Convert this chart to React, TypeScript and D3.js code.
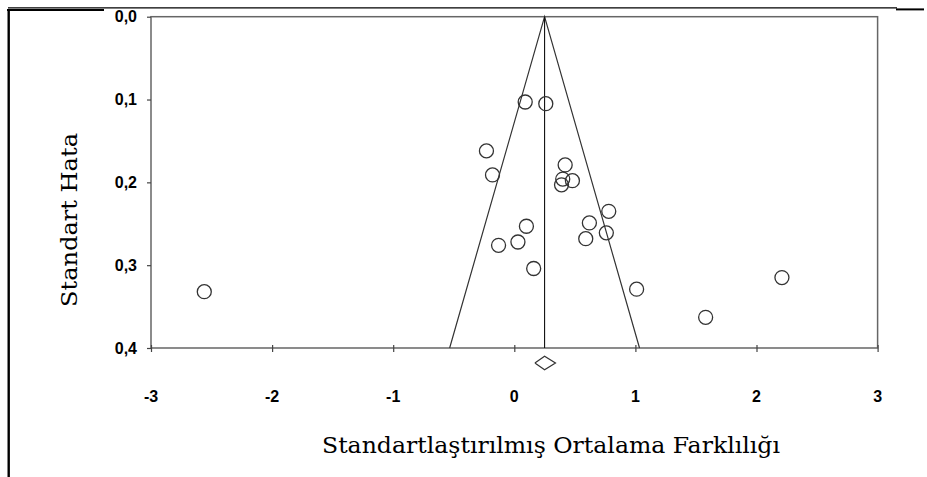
import React, { useEffect, useRef } from 'react'
import * as d3 from 'd3'

// study effect sizes (standardised mean difference) and their standard errors
const effects = [0.09, 0.26, -0.23, -0.18, 0.42, 0.40, 0.48, 0.39, 0.78, 0.62, 0.10, 0.76, 0.59, 0.03, -0.13, 0.16, -2.56, 1.01, 1.58, 2.21]
const stdErrors = [0.103, 0.105, 0.162, 0.191, 0.179, 0.196, 0.198, 0.203, 0.235, 0.249, 0.253, 0.261, 0.268, 0.272, 0.276, 0.304, 0.332, 0.329, 0.363, 0.315]
const pooledMean = 0.25
const pooledCI = [0.17, 0.34]
const xTicks = [-3, -2, -1, 0, 1, 2, 3]
const yTicks = [0, 0.1, 0.2, 0.3, 0.4]

const W = 927
const H = 477
const margin = { left: 151, top: 16.7, right: 49.4, bottom: 129 }

export default function App() {
  const ref = useRef<SVGSVGElement>(null)

  useEffect(() => {
    const svg = d3.select(ref.current)
    svg.selectAll('*').remove()

    const width = W - margin.left - margin.right
    const height = H - margin.top - margin.bottom

    const x = d3.scaleLinear().domain([-3, 3]).range([0, width])
    const y = d3.scaleLinear().domain([0, 0.4]).range([0, height])
    const fmt = d3.formatLocale({ decimal: ',', thousands: '.', grouping: [3], currency: ['', ''] }).format('.1f')

    // outer page frame
    svg.append('line').attr('x1', 8).attr('x2', 897).attr('y1', 7.8).attr('y2', 7.8).attr('stroke', '#000').attr('stroke-width', 1.2)
    svg.append('line').attr('x1', 7).attr('x2', 104).attr('y1', 10).attr('y2', 10).attr('stroke', '#000').attr('stroke-width', 2.2)
    svg.append('line').attr('x1', 896).attr('x2', 924).attr('y1', 9.4).attr('y2', 9.4).attr('stroke', '#000').attr('stroke-width', 2)
    svg.append('line').attr('x1', 8.7).attr('x2', 8.7).attr('y1', 9).attr('y2', H).attr('stroke', '#000').attr('stroke-width', 2.4)

    const g = svg.append('g').attr('transform', `translate(${margin.left},${margin.top})`)

    // plot box
    g.append('rect').attr('width', width).attr('height', height)
      .attr('fill', 'none').attr('stroke', '#666').attr('stroke-width', 1.5)

    // y axis ticks + labels
    const yAxis = g.append('g')
      .call(d3.axisLeft(y).tickValues(yTicks).tickFormat(d => fmt(d as number)).tickSizeInner(4).tickSizeOuter(0).tickPadding(10))
    yAxis.select('.domain').remove()
    yAxis.selectAll('line').attr('stroke', '#444').attr('stroke-width', 1.2)
    yAxis.selectAll('text').style('font-family', 'Liberation Sans, Arial, sans-serif')
      .style('font-weight', 'bold').style('font-size', '16px').attr('fill', '#000')

    // x axis ticks crossing the bottom edge
    const xAxis = g.append('g').attr('transform', `translate(0,${height - 3})`)
      .call(d3.axisBottom(x).tickValues(xTicks).tickSizeInner(7).tickSizeOuter(0).tickFormat(() => ''))
    xAxis.select('.domain').remove()
    xAxis.selectAll('line').attr('stroke', '#444').attr('stroke-width', 1.2)

    g.append('g').selectAll('text').data(xTicks).join('text')
      .attr('x', d => x(d)).attr('y', height + 54)
      .attr('text-anchor', 'middle')
      .style('font-family', 'Liberation Sans, Arial, sans-serif')
      .style('font-weight', 'bold').style('font-size', '16px')
      .text(d => String(d))

    // funnel
    const lo = pooledMean - 1.96 * 0.4
    const hi = pooledMean + 1.96 * 0.4
    g.append('path')
      .attr('d', d3.line()([[x(lo), y(0.4)], [x(pooledMean), y(0)], [x(hi), y(0.4)]]))
      .attr('fill', 'none').attr('stroke', '#333').attr('stroke-width', 1.2)
    g.append('line').attr('x1', x(pooledMean)).attr('x2', x(pooledMean)).attr('y1', y(0)).attr('y2', y(0.4))
      .attr('stroke', '#111').attr('stroke-width', 1.1)

    // pooled diamond
    const dy = height + 15
    g.append('path')
      .attr('d', d3.line()([[x(pooledCI[0]), dy], [x(pooledMean), dy - 6.7], [x(pooledCI[1]), dy], [x(pooledMean), dy + 6.7], [x(pooledCI[0]), dy]]))
      .attr('fill', 'none').attr('stroke', '#333').attr('stroke-width', 1.2)

    // studies
    g.append('g').selectAll('circle').data(effects).join('circle')
      .attr('cx', d => x(d)).attr('cy', (d, i) => y(stdErrors[i]))
      .attr('r', 7).attr('fill', 'none').attr('stroke', '#333').attr('stroke-width', 1.3)

    // axis titles
    svg.append('text')
      .attr('transform', `translate(77,220) rotate(-90)`)
      .attr('text-anchor', 'middle')
      .attr('textLength', 174).attr('lengthAdjust', 'spacingAndGlyphs')
      .style('font-family', 'DejaVu Serif, serif').style('font-size', '22px')
      .text('Standart Hata')
    svg.append('text')
      .attr('x', 551).attr('y', 453)
      .attr('text-anchor', 'middle')
      .attr('textLength', 458).attr('lengthAdjust', 'spacingAndGlyphs')
      .style('font-family', 'DejaVu Serif, serif').style('font-size', '22px')
      .text('Standartlaştırılmış Ortalama Farklılığı')
  })

  return (
    <svg ref={ref} width={W} height={H} style={{ position: 'absolute', left: 0, top: 0, background: '#fff' }} />
  )
}
